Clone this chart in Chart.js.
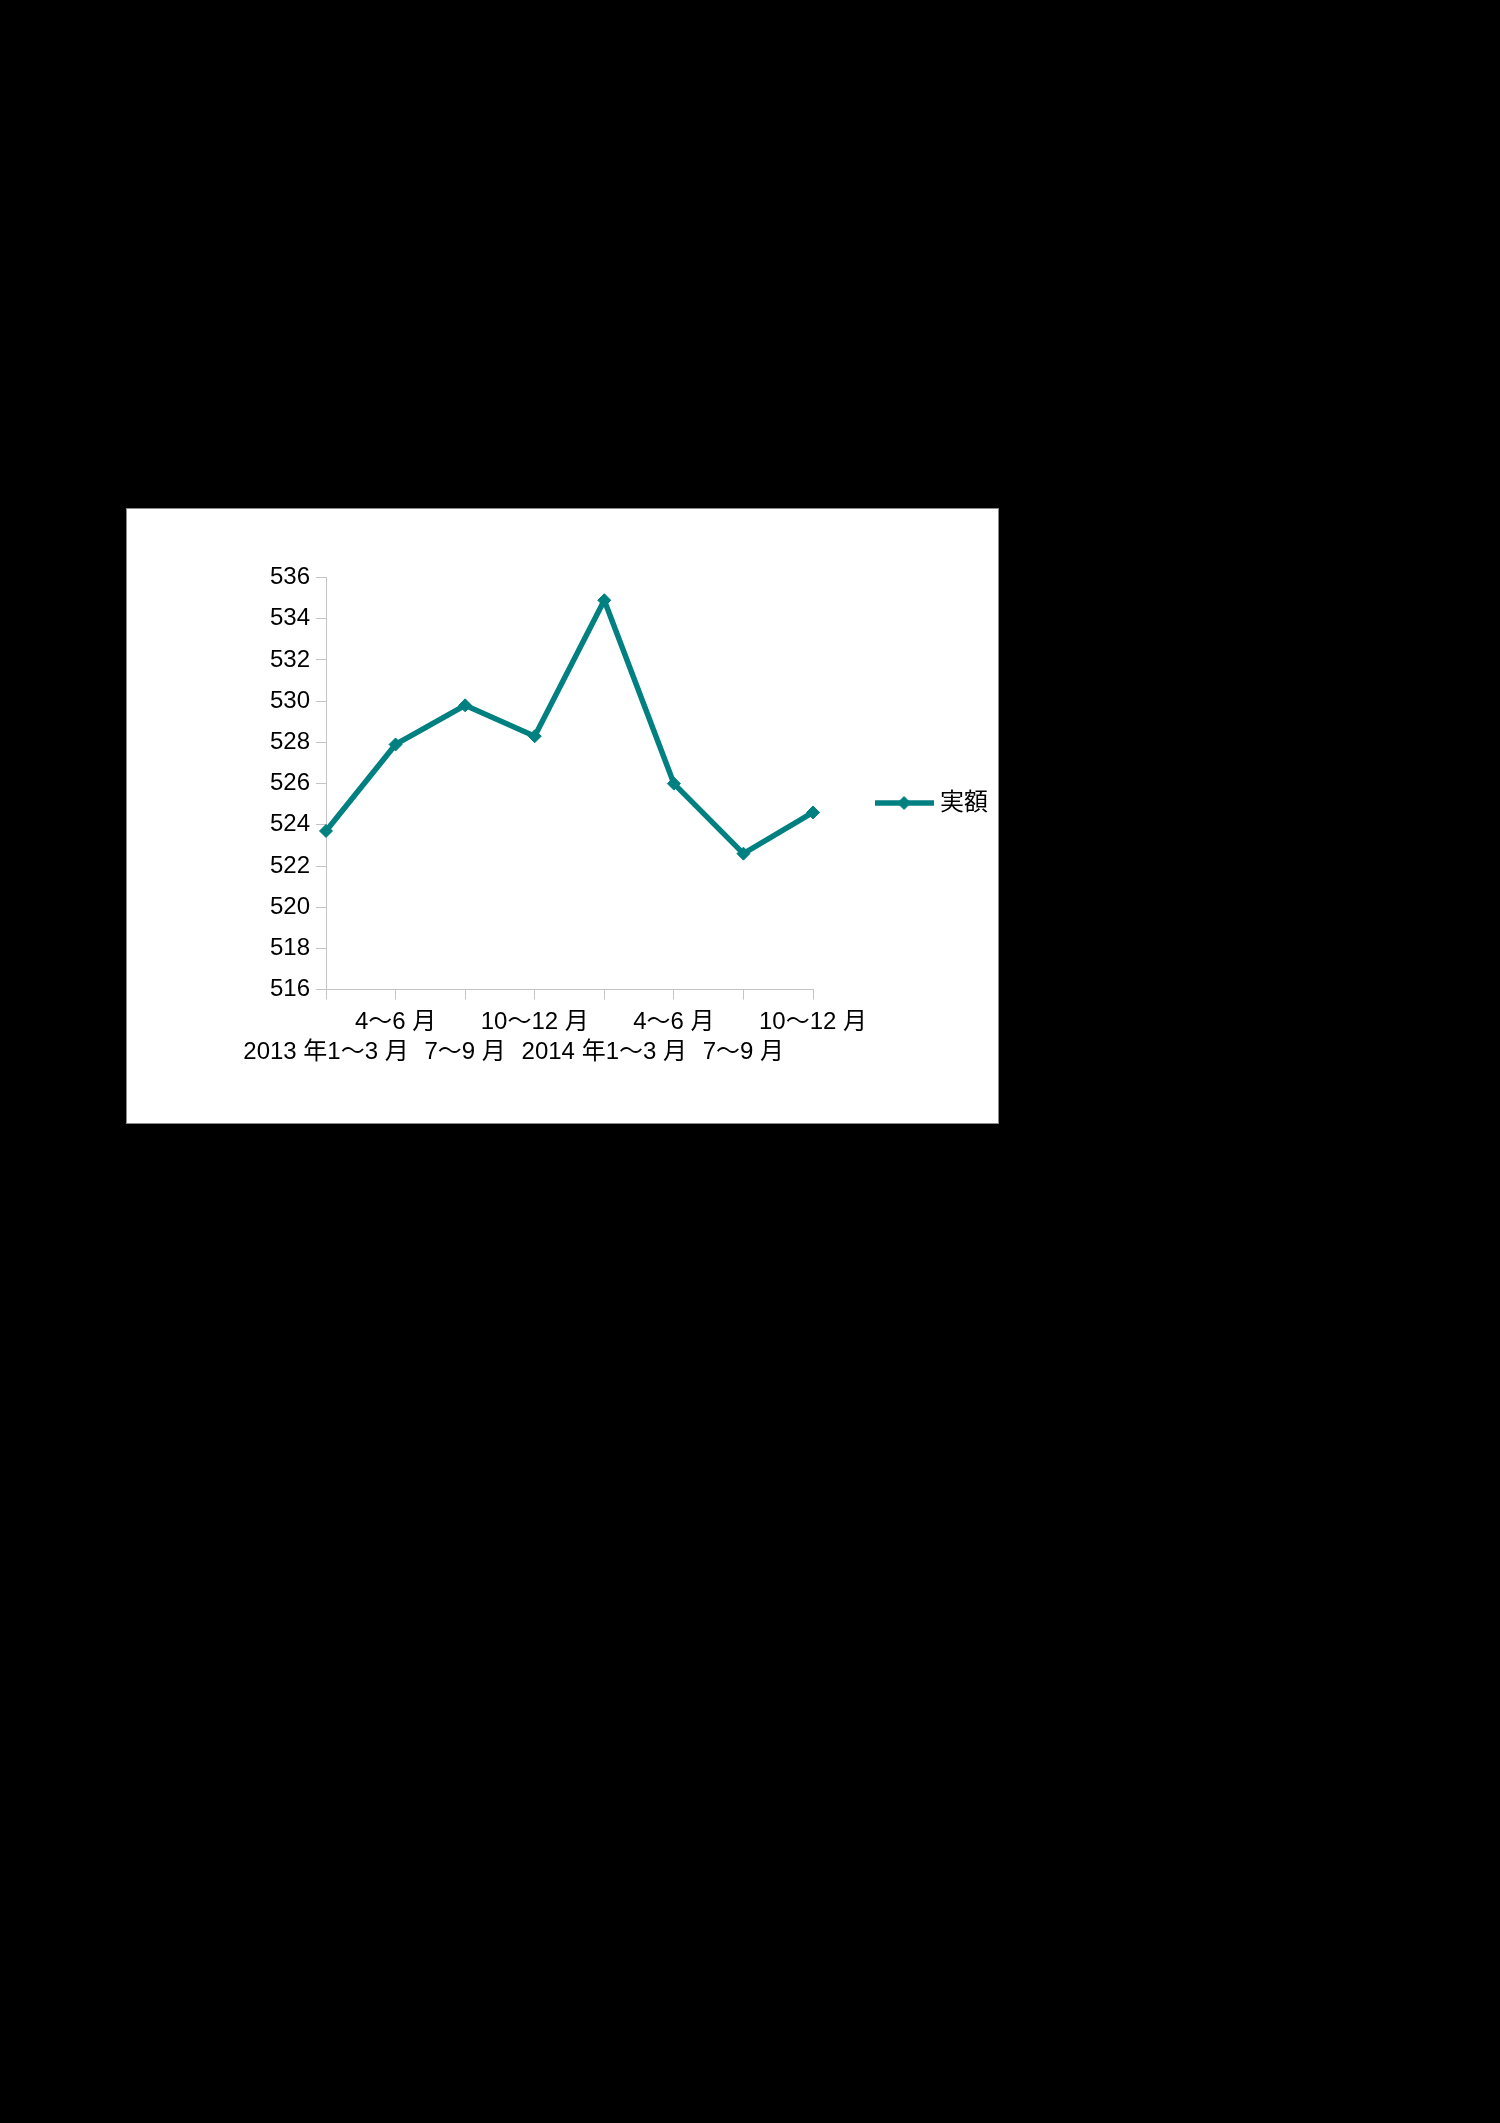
<!DOCTYPE html>
<html>
<head>
<meta charset="utf-8">
<script src="https://cdn.jsdelivr.net/npm/chart.js@4/dist/chart.umd.min.js"></script>
<style>
  html, body { margin: 0; padding: 0; background: #000; }
  body { width: 1500px; height: 2123px; position: relative; overflow: hidden; }
  #box { position: absolute; left: 127px; top: 509px; width: 871px; height: 614px; background: #fff; }
  #frame { position: absolute; left: 126px; top: 508px; width: 871px; height: 614px; border: 1px solid #8a8a8a; pointer-events: none; }
  canvas { position: absolute; left: 0; top: 0; }
</style>
</head>
<body>
<div id="box"><canvas id="c" width="871" height="614"></canvas></div>
<div id="frame"></div>
<script>
const categories = ['2013 年1～3 月', '4～6 月', '7～9 月', '10～12 月', '2014 年1～3 月', '4～6 月', '7～9 月', '10～12 月'];
const seriesName = '実額';
const seriesValues = [523.7, 527.9, 529.8, 528.3, 534.9, 526.0, 522.6, 524.6];
const yMin = 516, yMax = 536, yStep = 2;

const TEAL = '#008080';
const FONT = "'Liberation Sans', Arial, 'Noto Sans CJK JP', sans-serif";

// legend marker: line with a diamond in the middle
const marker = document.createElement('canvas');
marker.width = 59; marker.height = 16;
(function () {
  const g = marker.getContext('2d');
  g.strokeStyle = TEAL; g.lineWidth = 5.5;
  g.beginPath(); g.moveTo(0, 8); g.lineTo(59, 8); g.stroke();
  g.fillStyle = TEAL;
  g.beginPath(); g.moveTo(29.5, 1); g.lineTo(36.5, 8); g.lineTo(29.5, 15); g.lineTo(22.5, 8); g.closePath(); g.fill();
})();

new Chart(document.getElementById('c'), {
  type: 'line',
  data: {
    labels: categories,
    datasets: [{
      label: seriesName,
      data: seriesValues,
      borderColor: TEAL,
      backgroundColor: TEAL,
      borderWidth: 5.5,
      tension: 0,
      pointStyle: 'rectRot',
      pointRadius: 6.5,
      pointHoverRadius: 6.5,
      pointBackgroundColor: TEAL,
      pointBorderColor: TEAL,
      pointBorderWidth: 1,
      fill: false
    }]
  },
  options: {
    responsive: false,
    animation: false,
    devicePixelRatio: 1,
    layout: { padding: { top: 0, left: 0, right: 0, bottom: 26 } },
    plugins: {
      title: {
        display: true,
        text: ' ',
        color: 'rgba(0,0,0,0)',
        font: { family: FONT, size: 12, lineHeight: 1 },
        padding: { top: 56.6, bottom: 0 }
      },
      legend: {
        position: 'right',
        align: 'center',
        labels: {
          usePointStyle: true,
          pointStyle: marker,
          pointStyleWidth: 48,
          boxHeight: 16,
          padding: 67,
          color: '#000',
          font: { family: FONT, size: 24 }
        }
      },
      tooltip: { enabled: false }
    },
    scales: {
      x: {
        type: 'category',
        offset: false,
        grid: { display: true, drawOnChartArea: false, drawTicks: true, tickLength: 10, color: '#c4c4c4', offset: false },
        border: { display: true, color: '#c4c4c4', width: 1 },
        ticks: {
          autoSkip: false,
          maxRotation: 0,
          minRotation: 0,
          padding: 8,
          color: '#000',
          font: { family: FONT, size: 24, lineHeight: 1.25 },
          callback: function (value, index) {
            const t = categories[index];
            return index % 2 === 1 ? [t, ''] : ['', t];
          }
        },
        afterFit: function (scale) { scale.height = 107.4; }
      },
      y: {
        min: yMin,
        max: yMax,
        grid: { display: true, drawOnChartArea: false, drawTicks: true, tickLength: 10, color: '#c4c4c4' },
        border: { display: true, color: '#c4c4c4', width: 1 },
        ticks: {
          stepSize: yStep,
          padding: 6,
          color: '#000',
          font: { family: FONT, size: 24 }
        },
        afterFit: function (scale) { scale.width = 199; }
      }
    }
  }
});
</script>
</body>
</html>
